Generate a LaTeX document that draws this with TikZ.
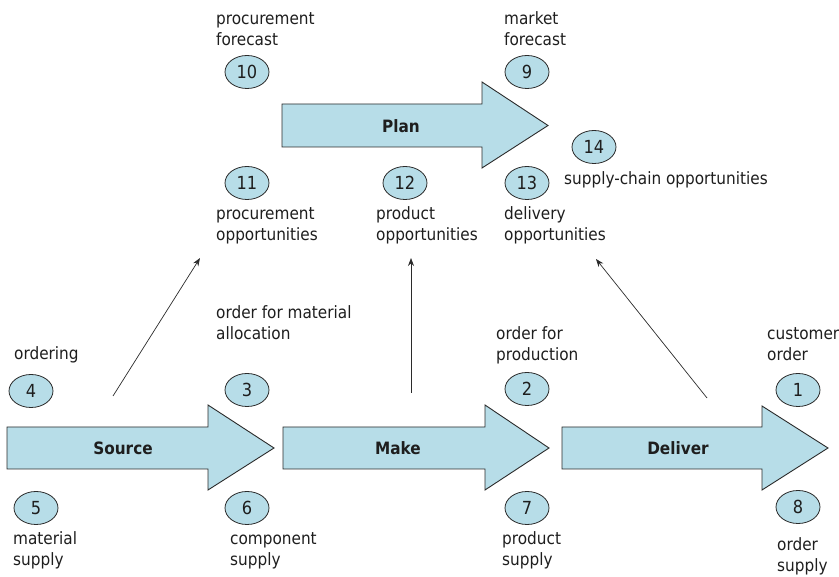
\documentclass[tikz,border=0pt]{standalone}
\usepackage{fontspec}
\setmainfont{DejaVu Sans Condensed}
\usetikzlibrary{shapes.geometric,arrows.meta}
\definecolor{arrowfill}{HTML}{B7DDE8}
\definecolor{inkline}{HTML}{2B2B2B}
\definecolor{inktext}{HTML}{1E1E1E}
\begin{document}
\begin{tikzpicture}[x=1pt,y=-1pt,
  num/.style={ellipse,draw=inkline,fill=arrowfill,line width=0.8pt,minimum width=44pt,minimum height=33pt,inner sep=0pt,text=inktext,font=\fontsize{18}{21}\selectfont},
  lbl/.style={anchor=north west,inner sep=0pt,align=left,text=inktext,font=\fontsize{17}{21}\selectfont},
  bigarrow/.style={draw=inkline,fill=arrowfill,line width=0.9pt,line join=miter},
  arrowname/.style={inner sep=0pt,text=inktext,font=\fontsize{17}{21}\selectfont\bfseries},
  conn/.style={draw=inkline,line width=0.7pt,-{Stealth[length=8pt,width=6pt]}}]
\useasboundingbox (0,0) rectangle (839,577);

% big process arrows
\draw[bigarrow] (282,104) -- (482,104) -- (482,82) -- (548,125.5) -- (482,168) -- (482,147) -- (282,147) -- cycle;
\draw[bigarrow] (7,427) -- (208,427) -- (208,405) -- (274,448) -- (208,490) -- (208,469) -- (7,469) -- cycle;
\draw[bigarrow] (283,427) -- (485,427) -- (485,405) -- (549,448) -- (485,490) -- (485,469) -- (283,469) -- cycle;
\draw[bigarrow] (562,427) -- (762,427) -- (762,406) -- (828,448) -- (762,490) -- (762,469) -- (562,469) -- cycle;

\node[arrowname] (plan) at (401,126) {Plan};
\node[arrowname] (source) at (123,448) {Source};
\node[arrowname] (make) at (398,448) {Make};
\node[arrowname] (deliver) at (678,448) {Deliver};

% numbered ellipses
\node[num] (n10) at (247,72) {10};
\node[num] (n9) at (527,72) {9};
\node[num] (n14) at (594,147) {14};
\node[num] (n11) at (247,183) {11};
\node[num] (n12) at (405,183) {12};
\node[num] (n13) at (527,183) {13};
\node[num] (n4) at (31,391) {4};
\node[num] (n3) at (247,390) {3};
\node[num] (n2) at (527,389) {2};
\node[num] (n1) at (798,390) {1};
\node[num] (n5) at (36,508) {5};
\node[num] (n6) at (247,508) {6};
\node[num] (n7) at (527,508) {7};
\node[num] (n8) at (798,507) {8};

% labels (north = first baseline - 14.7)
\node[lbl] (t10) at (216,10) {\strut procurement\\forecast};
\node[lbl] (t9) at (504,10) {\strut market\\forecast};
\node[lbl] (t14) at (564,169.3) {\strut supply-chain opportunities};
\node[lbl] (t11) at (216,204.8) {\strut procurement\\opportunities};
\node[lbl] (t12) at (376,204.8) {\strut product\\opportunities};
\node[lbl] (t13) at (504,204.8) {\strut delivery\\opportunities};
\node[lbl] (t4) at (14,344.3) {\strut ordering};
\node[lbl] (t3) at (216,303.3) {\strut order for material\\allocation};
\node[lbl] (t2) at (496,324.3) {\strut order for\\production};
\node[lbl] (t1) at (767,324.3) {\strut customer\\order};
\node[lbl] (t5) at (13,529.8) {\strut material\\supply};
\node[lbl] (t6) at (230,529.8) {\strut component\\supply};
\node[lbl] (t7) at (502,529.8) {\strut product\\supply};
\node[lbl] (t8) at (777,535.3) {\strut order\\supply};

% connectors
\coordinate (s1) at (113,396);
\coordinate (e1) at (200,258);
\coordinate (s2) at (411,393);
\coordinate (e2) at (411,258);
\coordinate (s3) at (707,398);
\coordinate (e3) at (596,259);
\draw[conn] (s1) -- (e1);
\draw[conn] (s2) -- (e2);
\draw[conn] (s3) -- (e3);
\end{tikzpicture}
\end{document}
